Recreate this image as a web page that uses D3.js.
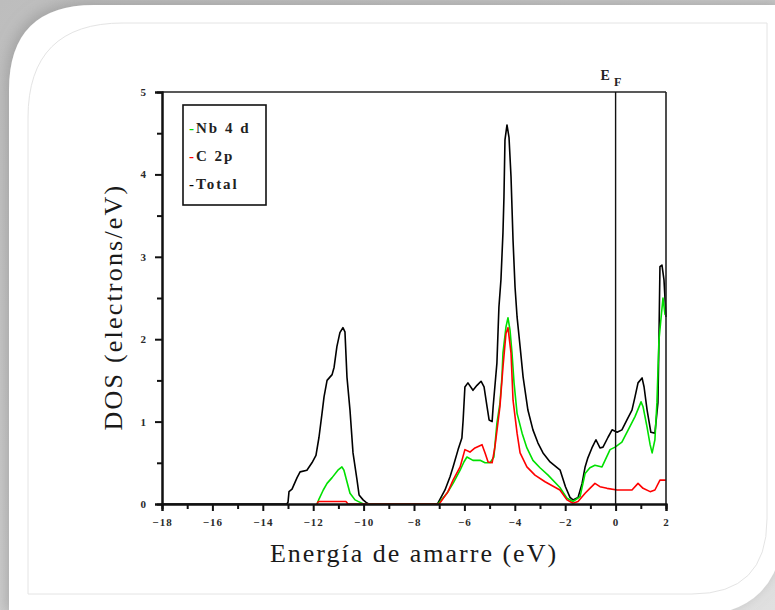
<!DOCTYPE html>
<html>
<head>
<meta charset="utf-8">
<script src="https://cdn.jsdelivr.net/npm/d3@7"></script>
<style>
  html, body { margin: 0; padding: 0; background: #d6d6d6; }
  svg { display: block; }
</style>
</head>
<body>
<svg id="chart" viewBox="0 0 775 610" width="775" height="610"></svg>
<script>
// ---- data (energy in eV, DOS in electrons/eV) ----
const total_x = [-18, -13.05, -13.0, -12.96, -12.84, -12.64, -12.52, -12.25, -12.05, -11.89, -11.77, -11.65, -11.57, -11.45, -11.25, -11.17, -11.06, -10.94, -10.82, -10.74, -10.66, -10.54, -10.42, -10.26, -10.18, -10.02, -9.9, -9.8,
  -7.1, -7.05, -6.77, -6.57, -6.45, -6.25, -6.1, -6.05, -5.98, -5.86, -5.66, -5.5, -5.34, -5.22, -5.1, -5.02, -4.9, -4.86, -4.71, -4.63, -4.55, -4.47, -4.43, -4.39, -4.31, -4.23, -4.15, -4.07, -3.99, -3.91, -3.79, -3.67, -3.48, -3.28, -3.08, -2.88, -2.6, -2.2,
  -1.99, -1.81, -1.69, -1.49, -1.33, -1.21, -1.1, -0.94, -0.78, -0.62, -0.5, -0.3, -0.14, 0.06, 0.25, 0.45, 0.65, 0.77, 0.89, 1.05, 1.13, 1.25, 1.4, 1.56, 1.68, 1.72, 1.76, 1.84, 1.92, 2.0]
const total_y = [0, 0, 0.02, 0.15, 0.18, 0.32, 0.39, 0.41, 0.5, 0.59, 0.81, 1.1, 1.3, 1.5, 1.57, 1.66, 1.91, 2.08, 2.14, 2.09, 1.54, 1.14, 0.62, 0.29, 0.11, 0.05, 0.02, 0,
  0, 0.01, 0.17, 0.33, 0.45, 0.66, 0.8, 1.02, 1.42, 1.47, 1.38, 1.44, 1.49, 1.42, 1.18, 1.02, 1.0, 1.18, 1.71, 2.39, 2.72, 3.29, 3.73, 4.42, 4.6, 4.45, 3.97, 3.2, 2.63, 2.27, 1.91, 1.54, 1.14, 0.9, 0.74, 0.62, 0.51, 0.41,
  0.21, 0.08, 0.05, 0.08, 0.25, 0.45, 0.56, 0.68, 0.78, 0.68, 0.69, 0.81, 0.9, 0.87, 0.9, 1.02, 1.14, 1.3, 1.47, 1.53, 1.42, 1.14, 0.87, 0.86, 1.23, 1.99, 2.88, 2.9, 2.72, 2.27]

const nb4d_x = [-11.85, -11.77, -11.6, -11.45, -11.25, -11.02, -10.86, -10.78, -10.66, -10.54, -10.34, -10.14, -10.0,
  -7.05, -6.69, -6.45, -6.17, -6.02, -5.9, -5.66, -5.38, -5.18, -4.98, -4.83, -4.71, -4.59, -4.51, -4.47, -4.35, -4.27, -4.19, -4.11, -4.03, -3.91, -3.71, -3.52, -3.28, -3.0, -2.68, -2.21,
  -1.93, -1.69, -1.41, -1.21, -1.02, -0.82, -0.54, -0.22, -0.02, 0.25, 0.5, 0.77, 1.01, 1.09, 1.25, 1.37, 1.45, 1.56, 1.64, 1.72, 1.88, 1.96, 2.0]
const nb4d_y = [0, 0.06, 0.17, 0.25, 0.32, 0.41, 0.45, 0.41, 0.27, 0.13, 0.05, 0.02, 0,
  0, 0.13, 0.25, 0.41, 0.51, 0.57, 0.53, 0.53, 0.5, 0.5, 0.57, 0.98, 1.22, 1.54, 1.83, 2.15, 2.26, 2.11, 1.83, 1.47, 1.1, 0.86, 0.68, 0.53, 0.44, 0.35, 0.2,
  0.07, 0.03, 0.09, 0.37, 0.44, 0.47, 0.45, 0.66, 0.69, 0.75, 0.9, 1.06, 1.24, 1.18, 0.93, 0.72, 0.62, 0.78, 1.23, 1.99, 2.5, 2.3, 2.3]

const c2p_x = [-11.85, -11.8, -10.7, -10.62,
  -7.0, -6.65, -6.45, -6.17, -5.98, -5.78, -5.58, -5.3, -5.18, -5.06, -4.9, -4.79, -4.59, -4.47, -4.35, -4.27, -4.15, -4.07, -3.91, -3.79, -3.52, -3.2, -2.8, -2.21,
  -1.93, -1.69, -1.49, -1.21, -1.02, -0.82, -0.62, -0.34, 0.06, 0.65, 0.89, 1.09, 1.37, 1.56, 1.76, 1.96, 2.0]
const c2p_y = [0, 0.03, 0.03, 0,
  0, 0.15, 0.29, 0.45, 0.66, 0.63, 0.68, 0.72, 0.62, 0.51, 0.5, 0.69, 1.18, 1.66, 2.07, 2.14, 1.83, 1.26, 0.86, 0.62, 0.45, 0.35, 0.27, 0.17,
  0.05, 0.01, 0.03, 0.13, 0.19, 0.25, 0.21, 0.19, 0.17, 0.17, 0.25, 0.19, 0.15, 0.17, 0.29, 0.29, 0.29]

const x_ticks = [-18, -16, -14, -12, -10, -8, -6, -4, -2, 0, 2]
const y_ticks = [0, 1, 2, 3, 4, 5]
const legend_names = ["Nb 4 d", "C 2p", "Total"]
const legend_colors = ["#00e000", "#ff0000", "#000000"]

const svg = d3.select("#chart")
const width = 775, height = 610

// ---- card background ----
const defs = svg.append("defs")
const grad = defs.append("linearGradient").attr("id", "bg").attr("x1", 0).attr("y1", 0).attr("x2", 1).attr("y2", 1)
grad.append("stop").attr("offset", "0%").attr("stop-color", "#bdbdbd")
grad.append("stop").attr("offset", "100%").attr("stop-color", "#e0e0e0")
const shadow = defs.append("filter").attr("id", "shadow").attr("x", "-10%").attr("y", "-10%").attr("width", "120%").attr("height", "120%")
shadow.append("feDropShadow").attr("dx", -3).attr("dy", -3).attr("stdDeviation", 7).attr("flood-color", "#888").attr("flood-opacity", 0.55)

svg.append("rect").attr("width", width).attr("height", height).attr("fill", "url(#bg)")

// rounded top-left and bottom-right corners only
function cardPath(x0, y0, x1, y1, r1, r2) {
    return `M${x0 + r1},${y0} L${x1},${y0} L${x1},${y1 - r2} Q${x1},${y1} ${x1 - r2},${y1} L${x0},${y1} L${x0},${y0 + r1} Q${x0},${y0} ${x0 + r1},${y0} Z`
}
svg.append("path").attr("d", cardPath(9, 5, 784, 616, 85, 95)).attr("fill", "#fff").attr("filter", "url(#shadow)")
svg.append("path").attr("d", cardPath(28, 23, 767, 594, 95, 75)).attr("fill", "none").attr("stroke", "#e4e4e4").attr("stroke-width", 1)

// ---- scales ----
const x = d3.scaleLinear().domain([-18, 2]).range([162, 666])
const y = d3.scaleLinear().domain([0, 5]).range([504, 92])

const serif = "'Liberation Serif', 'DejaVu Serif', serif"
const plot = svg.append("g")

// curves
const line = d3.line().x(d => x(d[0])).y(d => y(d[1]))
const series = [
    {xs: total_x, ys: total_y, color: legend_colors[2]},
    {xs: nb4d_x, ys: nb4d_y, color: legend_colors[0]},
    {xs: c2p_x, ys: c2p_y, color: legend_colors[1]}
]
series.forEach(s => {
    plot.append("path")
        .datum(s.xs.map((v, i) => [v, s.ys[i]]))
        .attr("d", line)
        .attr("fill", "none")
        .attr("stroke", s.color)
        .attr("stroke-width", 1.6)
        .attr("stroke-linejoin", "round")
})

// frame: top and right
plot.append("line").attr("x1", x(-18)).attr("x2", x(2)).attr("y1", y(5)).attr("y2", y(5)).attr("stroke", "#222").attr("stroke-width", 1.6)
plot.append("line").attr("x1", x(2)).attr("x2", x(2)).attr("y1", y(5)).attr("y2", y(0)).attr("stroke", "#222").attr("stroke-width", 1.6)
// Fermi level
plot.append("line").attr("x1", x(0)).attr("x2", x(0)).attr("y1", y(5)).attr("y2", y(0)).attr("stroke", "#111").attr("stroke-width", 1.4)
const ef = svg.append("text").attr("x", x(0) - 15).attr("y", y(5) - 12)
    .attr("font-family", serif).attr("font-size", 14).attr("font-weight", "bold").attr("fill", "#222")
ef.append("tspan").text("E")
ef.append("tspan").attr("dx", 4).attr("dy", 6).attr("font-size", 12).text("F")

// axes
const xAxis = d3.axisBottom(x).tickValues(x_ticks).tickSize(7).tickPadding(7).tickFormat(d3.format("d"))
const xMinor = d3.axisBottom(x).tickValues(d3.range(-17, 2, 2)).tickSize(5).tickFormat("")
const yAxis = d3.axisLeft(y).tickValues(y_ticks).tickSize(7).tickPadding(8).tickFormat(d3.format("d"))
const yMinor = d3.axisLeft(y).tickValues(d3.range(0.5, 5, 1)).tickSize(5).tickFormat("")

function styleAxis(g) {
    g.select(".domain").attr("stroke", "#111").attr("stroke-width", 2)
    g.selectAll(".tick line").attr("stroke", "#111").attr("stroke-width", 2)
    g.selectAll("text").attr("font-family", serif).attr("font-size", 11).attr("font-weight", "bold")
        .attr("letter-spacing", 1).attr("fill", "#2a2a2a")
}
svg.append("g").attr("transform", `translate(0,${y(0)})`).call(xMinor).call(styleAxis)
svg.append("g").attr("transform", `translate(0,${y(0)})`).call(xAxis).call(styleAxis)
svg.append("g").attr("transform", `translate(${x(-18)},0)`).call(yMinor).call(styleAxis)
svg.append("g").attr("transform", `translate(${x(-18)},0)`).call(yAxis).call(styleAxis)

// axis titles
svg.append("text").attr("x", 414).attr("y", 562).attr("text-anchor", "middle")
    .attr("font-family", serif).attr("font-size", 26).attr("letter-spacing", 2).attr("fill", "#1a1a1a")
    .text("Energía de amarre (eV)")
svg.append("text").attr("transform", "translate(122,307) rotate(-90)").attr("text-anchor", "middle")
    .attr("font-family", serif).attr("font-size", 26).attr("letter-spacing", 2.2).attr("fill", "#1a1a1a")
    .text("DOS (electrons/eV)")

// legend
const legend = svg.append("g")
legend.append("rect").attr("x", 183).attr("y", 105).attr("width", 83).attr("height", 100)
    .attr("fill", "#fff").attr("stroke", "#111").attr("stroke-width", 1.6)
legend_names.forEach((name, i) => {
    const t = legend.append("text").attr("x", 189).attr("y", 133 + i * 28)
        .attr("font-family", serif).attr("font-size", 15).attr("font-weight", "bold")
        .attr("letter-spacing", 2).attr("fill", "#222")
    t.append("tspan").attr("fill", legend_colors[i]).text("-")
    t.append("tspan").text(name)
})
</script>
</body>
</html>
